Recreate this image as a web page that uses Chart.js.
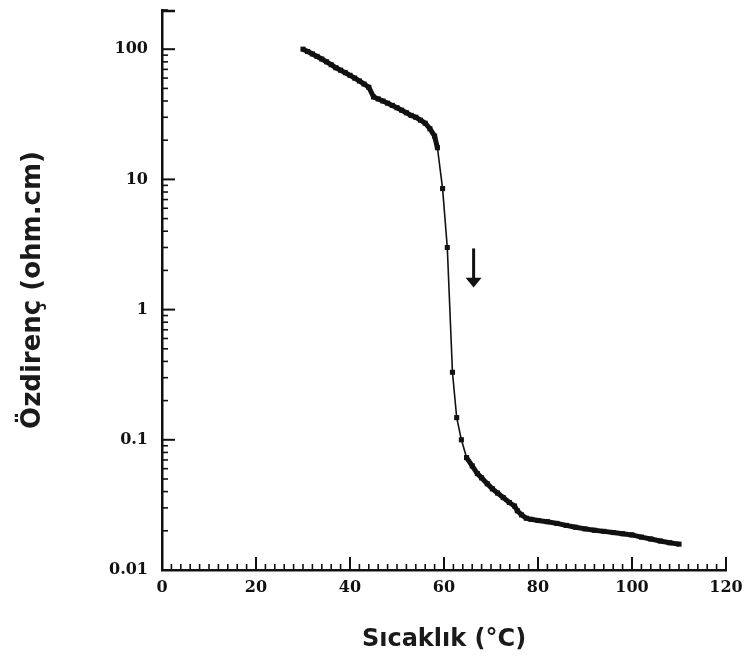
<!DOCTYPE html>
<html>
<head>
<meta charset="utf-8">
<script src="https://cdn.jsdelivr.net/npm/chart.js@4.4.1/dist/chart.umd.min.js"></script>
<style>
html,body{margin:0;padding:0;background:#fff;}
#wrap{width:746px;height:664px;position:relative;}
</style>
</head>
<body>
<div id="wrap"><canvas id="c" width="746" height="664"></canvas></div>
<script>
// Temperature (°C)
const temperature = [30,31,32,33,34,35,36,37,38,39,40,41,42,43,44,45,46,47,48,49,50,51,52,53,54,55,56,57,58,58.6,59.7,60.7,61.8,62.7,63.7,64.8,66,67.1,68,69.2,70.3,71.4,72.6,73.9,75,75.6,76.5,77.5,78.5,80,82,84,86,88,90,92,94,96,98,100,102,104,106,108,110];
// Resistivity (ohm.cm)
const resistivity = [100,96,92,88,84,80,76,72,69,66,63,60,57,54,51,43,41.5,40,38.5,37,35.5,34,32.5,31,30,28.5,27,24.5,21.5,17.5,8.5,3.0,0.33,0.148,0.1,0.073,0.063,0.055,0.051,0.046,0.042,0.039,0.036,0.033,0.031,0.0285,0.0265,0.025,0.0245,0.024,0.0235,0.0228,0.022,0.0213,0.0207,0.0202,0.0198,0.0194,0.019,0.0186,0.0179,0.0173,0.0167,0.0162,0.0158];
const xTickLabels = [0,20,40,60,80,100,120];
const yTickLabels = [0.01,0.1,1,10,100];
const arrowX = 66.3;           // arrow annotation (data coords)
const arrowY = [2.95, 1.76, 1.48]; // shaft top, head base, tip

const points = temperature.map((t,i)=>({x:t,y:resistivity[i]}));

const tickPlugin = {
  id:'innerTicks',
  afterDraw(chart){
    const ctx = chart.ctx, xs = chart.scales.x, ys = chart.scales.y;
    const x0 = xs.left, y0 = ys.bottom;
    ctx.save();
    ctx.strokeStyle = '#111';
    for (let v = 2; v <= 120; v += 2){
      const px = xs.getPixelForValue(v);
      const major = v % 20 === 0;
      ctx.lineWidth = major ? 2 : 1.6;
      ctx.beginPath(); ctx.moveTo(px, y0); ctx.lineTo(px, y0 - (major ? 13 : 6)); ctx.stroke();
    }
    for (let e = -2; e <= 2; e++){
      for (let m = 1; m <= 9; m++){
        const v = m * Math.pow(10, e);
        if (v > ys.max + 1e-9 || (e === -2 && m === 1)) continue;
        const py = ys.getPixelForValue(v);
        ctx.lineWidth = m === 1 ? 2 : 1.6;
        ctx.beginPath(); ctx.moveTo(x0, py); ctx.lineTo(x0 + (m === 1 ? 13 : 6), py); ctx.stroke();
      }
    }
    const pt = ys.getPixelForValue(ys.max);
    ctx.lineWidth = 2.5;
    ctx.beginPath(); ctx.moveTo(x0, pt + 1); ctx.lineTo(x0 + 13, pt + 1); ctx.stroke();
    const ax = xs.getPixelForValue(arrowX);
    const a0 = ys.getPixelForValue(arrowY[0]);
    const a1 = ys.getPixelForValue(arrowY[1]);
    const a2 = ys.getPixelForValue(arrowY[2]);
    ctx.lineWidth = 3;
    ctx.beginPath(); ctx.moveTo(ax, a0); ctx.lineTo(ax, a1 + 1); ctx.stroke();
    ctx.fillStyle = '#111';
    ctx.beginPath(); ctx.moveTo(ax - 8, a1); ctx.lineTo(ax + 8, a1); ctx.lineTo(ax, a2); ctx.closePath(); ctx.fill();
    ctx.restore();
  }
};

new Chart(document.getElementById('c'), {
  type:'line',
  data:{ datasets:[{
    data: points,
    borderColor:'#111',
    backgroundColor:'#111',
    borderWidth:4,
    pointStyle:'rect',
    pointRadius:3.6,
    pointBorderWidth:0,
    tension:0,
    segment:{
      borderWidth: c => {
        const r = Math.abs(Math.log10(c.p1.parsed.y) - Math.log10(c.p0.parsed.y));
        return r > 0.12 ? 1.6 : 5;
      }
    }
  }]},
  options:{
    responsive:false,
    animation:false,
    layout:{ padding:{ top:10, right:20, left:0, bottom:0 } },
    plugins:{ legend:{display:false}, tooltip:{enabled:false} },
    scales:{
      x:{
        type:'linear', min:0, max:120,
        afterBuildTicks: s => { s.ticks = xTickLabels.map(v=>({value:v})); },
        afterFit: s => { s.height = 94; s.paddingLeft = 0; s.paddingRight = 0; },
        grid:{ display:false, drawTicks:false },
        border:{ display:true, color:'#111', width:2.5 },
        ticks:{ color:'#111', padding:8, maxRotation:0, autoSkip:false,
          font:{ family:'"DejaVu Serif"', size:16, weight:'bold' } },
        title:{ display:true, text:'Sıcaklık (°C)', color:'#1a1a1a',
          font:{ family:'"DejaVu Sans"', size:24, weight:'bold' }, padding:{top:0,bottom:10} }
      },
      y:{
        type:'logarithmic', min:0.01, max:200,
        afterBuildTicks: s => { s.ticks = yTickLabels.map(v=>({value:v})); },
        afterFit: s => { s.width = 162; s.paddingTop = 0; s.paddingBottom = 0; },
        grid:{ display:false, drawTicks:false },
        border:{ display:true, color:'#111', width:2.5 },
        ticks:{ color:'#111', padding:14, autoSkip:false,
          callback: v => String(v),
          font:{ family:'"DejaVu Serif"', size:16, weight:'bold' } },
        title:{ display:true, text:'Özdirenç (ohm.cm)', color:'#1a1a1a',
          font:{ family:'"DejaVu Sans"', size:26, weight:'bold' }, padding:{top:18,bottom:18} }
      }
    }
  },
  plugins:[tickPlugin]
});
</script>
</body>
</html>
